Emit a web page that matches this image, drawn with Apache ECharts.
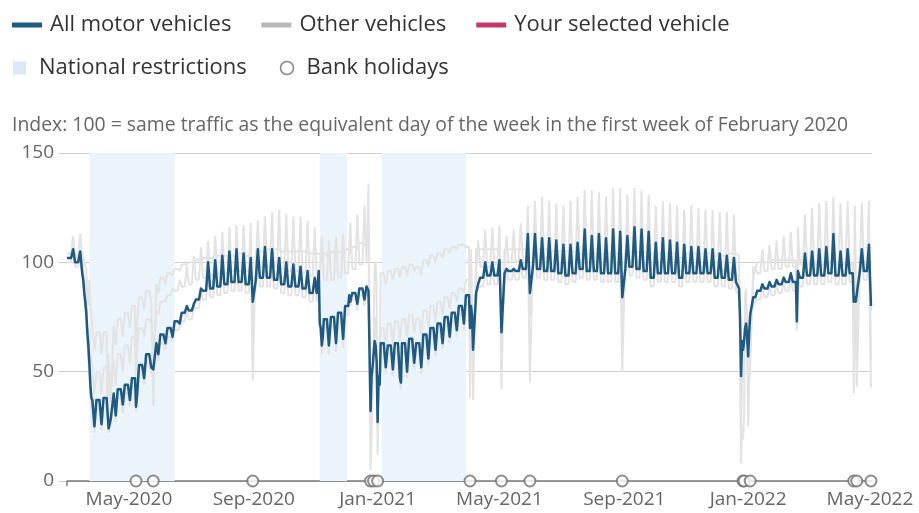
<!DOCTYPE html>
<html><head><meta charset="utf-8">
<script src="https://cdn.jsdelivr.net/npm/echarts@6/dist/echarts.min.js"></script>
<style>html,body{margin:0;padding:0;background:#fff}#c{width:919px;height:513px}</style>
</head><body><div id="c"></div>
<script>
// ---- DATA (weekly values, week k starts on Monday 2020-03-02 + 7k days) ----
// base = weekday level (Mon-Thu), sat = Saturday value
const firstMonday = '2020-03-02';
const seriesStart = '2020-03-01';
const seriesEnd = '2022-05-02';
const axisStart = '2020-03-01';
const axisEnd = '2022-05-03';
const tickDates = ['2020-05-01','2020-09-01','2021-01-01','2021-05-01','2021-09-01','2022-01-01','2022-05-01'];
const monthNames = ['Jan','Feb','Mar','Apr','May','Jun','Jul','Aug','Sep','Oct','Nov','Dec'];
const yTicks = [0, 50, 100, 150];

// All motor vehicles
const allBase = [102,100,82,37,37,38,40,42,44,47, 53,58,63,67,70,73,77,78,83,87, 88,89,90,91,91,90,92,93,93,92,
  90,89,89,88,86,86,74,75,77,80, 86,88,89,62,63,62,63,63,65,63, 67,70,72,75,77,80,85,86,93,94,
  94,95,96,96,97,98,97,96,96,95, 94,95,97,96,96,95,95,95,97,98, 97,96,93,95,95,95,93,95,95,95,
  95,93,93,92,91,68,84,87,88,89, 90,91,91,93,94,94,94,95,94,94, 95,96,96,80];
const allSat = [106,105,68,25,26,24,30,35,37,39, 47,52,58,63,66,72,80,81,88,100, 101,103,105,106,104,102,106,107,106,102,
  100,99,98,96,93,62,62,63,65,82, 81,83,75,50,52,51,47,50,54,52, 56,60,63,66,69,72,80,90,100,100,
  101,97,97,101,113,113,111,111,110,108, 108,109,115,112,113,111,115,114,112,116, 115,114,109,111,110,109,108,107,107,106,
  106,104,103,102,64,66,84,90,91,92, 93,95,96,104,105,106,107,113,105,106, 104,106,108,80];
const allSpecial = [['2020-03-16',95],['2020-03-17',92],['2020-03-18',86],['2020-03-19',82],['2020-03-20',77],['2020-03-21',68],['2020-03-22',62],['2020-03-23',54],['2020-03-24',44],['2020-03-25',38],['2020-03-27',37],
  ['2020-04-10',31],['2020-04-13',28],['2020-05-08',34],['2020-05-25',51],['2020-08-31',82],['2020-11-04',96],['2020-11-05',72],['2020-11-06',70],['2020-11-08',66],['2020-12-04',85],
  ['2020-12-23',87],['2020-12-24',60],['2020-12-25',32],['2020-12-26',48],['2020-12-27',52],['2020-12-28',58],['2020-12-29',64],['2020-12-30',62],['2020-12-31',55],['2021-01-01',27],['2021-01-02',48],['2021-01-03',44],
  ['2021-01-24',45],['2021-04-02',70],['2021-04-04',76],['2021-04-05',60],['2021-05-03',68],['2021-05-31',86],['2021-08-30',84],
  ['2021-12-23',88],['2021-12-24',75],['2021-12-25',48],['2021-12-26',64],['2021-12-27',60],['2021-12-28',64],['2021-12-29',70],['2021-12-30',72],['2021-12-31',66],['2022-01-01',57],['2022-01-02',68],['2022-01-03',76],
  ['2022-02-18',73],['2022-04-15',82],['2022-04-16',84],['2022-04-17',82],['2022-04-18',82],['2022-05-02',80]];

// Other vehicles (three grey lines)
const carBase = [100,98,80,33,33,34,36,38,40,43, 49,54,59,63,66,69,73,74,79,83, 84,85,86,87,87,86,88,89,89,88,
  86,85,85,84,82,82,70,71,73,76, 83,85,86,60,59,58,59,59,61,59, 63,66,68,71,73,76,81,82,89,90,
  90,91,92,92,93,94,93,92,92,91, 90,91,93,92,92,91,91,91,93,94, 93,92,89,91,91,91,89,91,91,91,
  91,89,89,88,87,65,80,83,84,85, 86,87,87,89,90,90,90,91,90,90, 91,92,92,78];
const carSat = [108,106,64,22,23,22,27,31,34,36, 44,49,55,60,64,70,78,80,86,99, 100,102,104,105,103,101,105,106,105,101,
  99,98,97,95,92,58,58,59,61,80, 78,80,72,48,49,48,44,47,51,49, 53,57,60,63,66,69,78,88,99,99,
  100,96,96,100,112,112,110,110,109,107, 107,108,114,111,112,110,114,113,111,115, 114,113,108,110,109,108,107,106,106,105,
  105,103,102,101,62,64,82,88,89,90, 91,93,94,102,103,104,105,111,103,104, 102,104,106,78];
const carSpecial = [['2020-03-16',93],['2020-03-17',90],['2020-03-18',84],['2020-03-19',79],['2020-03-20',74],['2020-03-21',64],['2020-03-22',56],['2020-03-23',50],['2020-03-24',40],['2020-03-25',34],['2020-03-27',33],
  ['2020-04-10',28],['2020-04-13',26],['2020-05-08',32],['2020-05-25',49],['2020-08-31',80],['2020-11-04',93],['2020-11-05',68],['2020-11-06',66],['2020-11-08',62],['2020-12-04',82],
  ['2020-12-23',84],['2020-12-24',58],['2020-12-25',30],['2020-12-26',46],['2020-12-27',50],['2020-12-28',56],['2020-12-29',62],['2020-12-30',60],['2020-12-31',53],['2021-01-01',25],['2021-01-02',46],['2021-01-03',42],
  ['2021-01-24',42],['2021-04-02',68],['2021-04-04',74],['2021-04-05',58],['2021-05-03',66],['2021-05-31',84],['2021-08-30',82],
  ['2021-12-23',85],['2021-12-24',72],['2021-12-25',45],['2021-12-26',62],['2021-12-27',58],['2021-12-28',62],['2021-12-29',68],['2021-12-30',70],['2021-12-31',64],['2022-01-01',55],['2022-01-02',66],['2022-01-03',74],
  ['2022-02-18',70],['2022-04-15',80],['2022-04-16',82],['2022-04-17',80],['2022-04-18',80],['2022-05-02',78]];

const lcvBase = [104,102,90,52,50,52,55,58,62,66, 70,74,78,82,85,87,89,90,92,93, 94,95,95,96,96,96,97,98,98,98,
  97,96,96,95,94,94,92,92,93,95, 97,99,100,70,70,72,73,74,76,74, 78,80,82,84,86,88,92,95,98,98,
  99,99,100,100,101,101,101,100,100,99, 99,100,101,100,100,99,99,99,100,101, 100,99,97,98,98,98,96,98,98,98,
  98,96,96,95,94,70,92,95,96,97, 97,98,98,99,99,99,99,100,99,99, 99,100,100,55];
const lcvSat = [112,113,70,40,40,38,44,50,54,58, 66,72,76,82,88,92,98,103,107,110, 112,114,116,117,117,118,119,121,123,124,
  122,121,121,119,116,112,110,112,113,118, 122,126,40,55,62,63,64,66,68,66, 70,73,76,79,82,86,100,110,115,116,
  117,112,115,118,126,128,130,128,127,126, 128,130,133,133,132,130,134,134,131,134, 133,131,126,128,127,126,124,126,125,124,
  124,123,123,122,25,62,98,106,108,110, 112,114,116,122,125,127,128,130,127,128, 126,127,128,55];
const lcvSpecial = [['2020-03-16',100],['2020-03-18',92],['2020-03-20',85],['2020-03-21',70],['2020-03-22',62],['2020-03-23',70],['2020-03-24',58],['2020-03-26',52],
  ['2020-04-10',36],['2020-04-13',40],['2020-05-08',50],['2020-05-25',60],['2020-08-31',72],
  ['2020-12-23',136],['2020-12-24',80],['2020-12-25',20],['2020-12-26',40],['2020-12-27',45],['2020-12-28',55],['2020-12-29',72],['2020-12-30',75],['2020-12-31',65],['2021-01-01',25],['2021-01-02',50],['2021-01-03',48],
  ['2021-04-02',60],['2021-04-05',55],['2021-05-03',70],['2021-05-31',75],['2021-08-30',70],
  ['2021-12-24',70],['2021-12-25',25],['2021-12-26',50],['2021-12-27',45],['2021-12-28',55],['2021-12-29',75],['2021-12-30',76],['2021-12-31',68],['2022-01-01',30],['2022-01-02',55],['2022-01-03',60],
  ['2022-02-18',70],['2022-04-15',60],['2022-04-18',65],['2022-05-02',55]];

const hgvBase = [104,103,98,70,68,68,71,74,77,80, 84,87,90,93,95,97,99,100,101,102, 102,103,103,103,104,103,105,105,106,106,
  105,105,105,105,104,104,104,105,105,106, 107,109,108,95,95,96,97,98,99,98, 101,103,104,106,107,108,107,106,106,106,
  106,106,106,106,106,106,106,106,105,105, 105,105,104,104,104,104,104,104,105,105, 105,105,104,104,104,104,102,104,104,104,
  104,103,103,104,104,70,98,100,100,101, 101,101,101,101,100,100,100,100,100,99, 99,99,99,43];
const hgvSat = [110,111,85,60,58,58,62,66,70,72, 78,82,86,90,94,96,99,100,102,103, 104,104,105,105,105,104,106,107,107,106,
  106,105,106,105,104,100,100,101,102,104, 106,108,20,80,90,92,93,94,96,94, 98,100,102,104,106,108,106,106,106,106,
  107,106,106,106,107,107,107,106,106,105, 105,105,104,104,104,104,104,104,105,106, 106,105,104,104,104,104,102,104,104,104,
  104,103,103,104,8,60,97,100,100,101, 101,101,101,101,100,100,100,100,100,99, 99,99,99,43];
const hgvSpecial = [['2020-03-16',104],['2020-03-18',101],['2020-03-20',97],['2020-03-21',85],['2020-03-22',80],['2020-03-23',92],['2020-03-24',80],['2020-03-26',70],
  ['2020-04-10',33],['2020-04-13',36],['2020-05-08',46],['2020-05-25',34],['2020-08-31',46],
  ['2020-12-23',110],['2020-12-24',60],['2020-12-25',5],['2020-12-26',20],['2020-12-27',40],['2020-12-28',60],['2020-12-29',98],['2020-12-30',100],['2020-12-31',90],['2021-01-01',12],['2021-01-02',50],['2021-01-03',45],
  ['2021-04-02',38],['2021-04-05',37],['2021-05-03',42],['2021-05-31',45],['2021-08-30',50],
  ['2021-12-23',103],['2021-12-24',55],['2021-12-25',8],['2021-12-26',25],['2021-12-27',19],['2021-12-28',30],['2021-12-29',85],['2021-12-30',88],['2021-12-31',70],['2022-01-01',25],['2022-01-02',45],['2022-01-03',52],
  ['2022-02-18',69],['2022-04-15',40],['2022-04-16',80],['2022-04-17',70],['2022-04-18',43],['2022-05-02',43]];

const restrictionStart = ['2020-03-23','2020-11-05','2021-01-05'];
const restrictionEnd   = ['2020-06-15','2020-12-02','2021-03-29'];
const bankHolidays = ['2020-05-08','2020-05-25','2020-08-31','2020-12-25','2020-12-28','2021-01-01','2021-04-02',
  '2021-05-03','2021-05-31','2021-08-30','2021-12-27','2021-12-28','2022-01-03','2022-04-15','2022-04-18','2022-05-02'];

// ---- BUILD ----
const DAY = 86400000;
function ts(s){const p=s.split('-').map(Number);return Date.UTC(p[0],p[1]-1,p[2]);}
const t0 = ts(seriesStart), t1 = ts(seriesEnd);
function build(base, sat, special){
  const m = new Map();
  m.set(t0, base[0]);
  const mon0 = ts(firstMonday);
  for(let k=0;k<base.length;k++){
    const mon = mon0 + 7*k*DAY;
    [[0,base[k]],[3,base[k]],[5,sat[k]]].forEach(([o,v])=>{
      const t = mon + o*DAY;
      if(t>=t0 && t<=t1) m.set(t, v);
    });
  }
  special.forEach(([d,v])=>m.set(ts(d), v));
  return [...m.entries()].sort((a,b)=>a[0]-b[0]);
}

const BLUE = '#1f5a82', GREY = '#e3e3e3', PINK = '#c5386b', BAND = '#ebf3fb';
const FONT = 'Open Sans';
const chart = echarts.init(document.getElementById('c'), null, {renderer:'canvas'});
const greyLine = (data)=>({name:'Other vehicles', type:'line', data, showSymbol:false, symbol:'none', z:2,
  lineStyle:{color:GREY, width:2}, itemStyle:{color:GREY}, emphasis:{disabled:true}});

chart.setOption({
  animation:false,
  title:{text:'Index: 100 = same traffic as the equivalent day of the week in the first week of February 2020',
    left:12, top:116, padding:0, textStyle:{fontSize:19.4, fontWeight:'normal', color:'#666', fontFamily:FONT}},
  legend:[{
    left:12, top:14, padding:0, itemWidth:30, itemHeight:5, itemGap:30, selectedMode:false,
    formatter:n=>'{t|'+n+'}',
    textStyle:{fontSize:22, color:'#333', fontFamily:FONT, rich:{t:{fontSize:22, color:'#333', fontFamily:FONT, padding:[0,0,0,3]}}},
    data:[{name:'All motor vehicles', icon:'rect', itemStyle:{color:BLUE, borderWidth:0}},
          {name:'Other vehicles', icon:'rect', itemStyle:{color:'#b8b8b8', borderWidth:0}},
          {name:'Your selected vehicle', icon:'rect', itemStyle:{color:PINK, borderWidth:0}}]
  },{
    left:13, top:57, padding:0, itemWidth:13, itemHeight:13, itemGap:33, selectedMode:false,
    formatter:n=>'{t|'+n+'}',
    textStyle:{fontSize:22, color:'#333', fontFamily:FONT, rich:{t:{fontSize:22, color:'#333', fontFamily:FONT, padding:[0,0,0,8]}}},
    data:[{name:'National restrictions', icon:'rect', itemStyle:{color:'#dbe8f7', borderWidth:0}},
          {name:'Bank holidays', icon:'circle', itemStyle:{color:'#fff', borderColor:'#666', borderWidth:1.5}}]
  }],
  grid:{left:67, right:47, top:153, bottom:32, containLabel:false},
  xAxis:{type:'value', min:ts(axisStart), max:ts(axisEnd),
    axisLine:{show:true, onZero:false, lineStyle:{color:'#7a7a7a', width:1.5}},
    axisTick:{show:true, customValues:[ts(axisStart)], length:5, lineStyle:{color:'#7a7a7a', width:1.5}},
    splitLine:{show:false},
    axisLabel:{customValues:tickDates.map(ts), fontSize:19, color:'#666', fontFamily:FONT, margin:9, hideOverlap:false,
      showMinLabel:true, showMaxLabel:true,
      formatter:v=>{const d=new Date(v);return monthNames[d.getUTCMonth()]+'-'+d.getUTCFullYear();}}},
  yAxis:{type:'value', min:yTicks[0], max:yTicks[yTicks.length-1], interval:50,
    axisLine:{show:false}, axisTick:{show:true, length:8, lineStyle:{color:'#cfcfcf'}},
    splitLine:{lineStyle:{color:'#cfcfcf', width:1}},
    axisLabel:{fontSize:19, color:'#666', fontFamily:FONT, margin:13}},
  series:[
    {name:'National restrictions', type:'line', data:[], z:0, itemStyle:{color:'#dbe8f7'},
      markArea:{silent:true, itemStyle:{color:BAND}, data:restrictionStart.map((s,i)=>[{xAxis:ts(s)},{xAxis:ts(restrictionEnd[i])}])}},
    greyLine(build(hgvBase, hgvSat, hgvSpecial)),
    greyLine(build(lcvBase, lcvSat, lcvSpecial)),
    greyLine(build(carBase, carSat, carSpecial)),
    {name:'All motor vehicles', type:'line', data:build(allBase, allSat, allSpecial), showSymbol:false, symbol:'none', z:3,
      lineStyle:{color:BLUE, width:2.5, join:'round'}, itemStyle:{color:BLUE}, emphasis:{disabled:true}},
    {name:'Your selected vehicle', type:'line', data:[], itemStyle:{color:PINK}, lineStyle:{color:PINK}},
    {name:'Bank holidays', type:'scatter', data:bankHolidays.map(d=>[ts(d),0]), symbol:'circle', symbolSize:11, clip:false, z:5,
      itemStyle:{color:'#fff', borderColor:'#707070', borderWidth:2}}
  ]
});
</script>
</body></html>
